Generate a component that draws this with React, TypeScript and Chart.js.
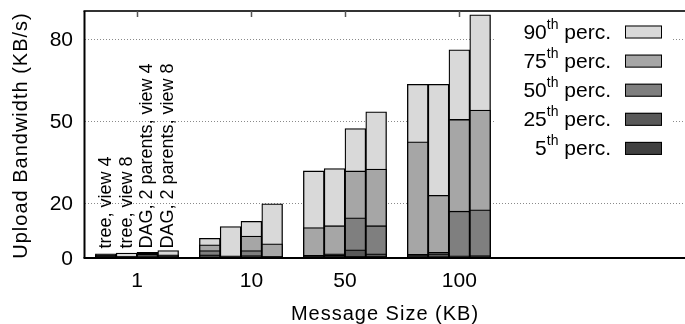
import React, { useEffect, useRef } from 'react';
import { Chart, registerables } from 'chart.js';

Chart.register(...registerables);

// ---------- data ----------
const messageSizes = ['1', '10', '50', '100'];
const configurations = [
  'tree, view 4',
  'tree, view 8',
  'DAG, 2 parents, view 4',
  'DAG, 2 parents, view 8',
];
const percentileNames = ['5', '25', '50', '75', '90'];

// values ordered: size 1 (4 configs), size 10, size 50, size 100
const p5 = [0.4, 0.2, 0.4, 0.3, 0.4, 0.2, 0.3, 0.2, 0.3, 0.5, 0.6, 0.6, 0.4, 0.5, 0.4, 0.4];
const p25 = [0.7, 0.3, 0.8, 0.5, 1.2, 0.3, 0.9, 0.4, 0.7, 1.0, 3.0, 1.5, 0.9, 1.5, 0.8, 0.9];
const p50 = [0.9, 0.4, 1.4, 0.8, 2.7, 0.5, 2.7, 0.6, 1.0, 1.5, 14.7, 11.8, 1.3, 2.1, 17.1, 17.6];
const p75 = [1.2, 0.6, 1.8, 1.2, 4.8, 0.8, 8.0, 5.2, 11.1, 11.8, 31.8, 32.5, 42.4, 22.9, 50.6, 54.0];
const p90 = [1.5, 1.8, 2.1, 2.7, 7.2, 11.5, 13.4, 19.8, 31.8, 32.7, 47.3, 53.4, 63.4, 63.4, 76.0, 88.8];
const percentileValues = [p5, p25, p50, p75, p90];

const yTickValues = [0, 20, 50, 80];

// ---------- layout / style ----------
const percentileColors = ['#404040', '#595959', '#7f7f7f', '#a6a6a6', '#d9d9d9'];
const xTickPositions = [2.5, 8, 12.5, 18];
const slotsPerGroup = configurations.length + 1;
const FONT = '"Liberation Sans", Arial, Helvetica, sans-serif';
const W = 685;
const H = 324;

const slotOf = (i: number) =>
  Math.floor(i / configurations.length) * slotsPerGroup + (i % configurations.length) + 1;

const overlayPlugin = {
  id: 'overlay',
  beforeDatasetsDraw(chart: any) {
    const { ctx, chartArea: a, scales } = chart;
    const y = scales.y;
    ctx.save();
    ctx.strokeStyle = '#8a8a8a';
    ctx.lineWidth = 1;
    ctx.setLineDash([1, 2]);
    for (const v of yTickValues) {
      if (v === 0) continue;
      const py = Math.round(y.getPixelForValue(v)) + 0.5;
      ctx.beginPath();
      ctx.moveTo(a.left, py);
      ctx.lineTo(a.right, py);
      ctx.stroke();
    }
    ctx.restore();
  },
  afterDatasetsDraw(chart: any) {
    const { ctx, chartArea: a, scales } = chart;
    const x = scales.x;
    const y = scales.y;
    ctx.save();

    // frame
    ctx.setLineDash([]);
    ctx.lineWidth = 2;
    ctx.strokeStyle = '#333';
    ctx.beginPath();
    ctx.moveTo(a.left - 1.5, a.top);
    ctx.lineTo(W, a.top);
    ctx.stroke();
    ctx.strokeStyle = '#000';
    ctx.beginPath();
    ctx.moveTo(a.left - 0.5, a.top);
    ctx.lineTo(a.left - 0.5, a.bottom);
    ctx.stroke();
    ctx.beginPath();
    ctx.moveTo(a.left - 1.5, a.bottom);
    ctx.lineTo(W, a.bottom);
    ctx.stroke();

    // mirrored top ticks
    ctx.strokeStyle = '#555';
    ctx.lineWidth = 1.5;
    for (const t of xTickPositions) {
      const px = Math.round(x.getPixelForValue(t)) + 0.5;
      ctx.beginPath();
      ctx.moveTo(px, a.top);
      ctx.lineTo(px, a.top + 6);
      ctx.stroke();
    }

    ctx.fillStyle = '#000';
    // y tick labels
    ctx.font = `21px ${FONT}`;
    ctx.textAlign = 'right';
    ctx.textBaseline = 'middle';
    for (const v of yTickValues) {
      ctx.fillText(String(v), 73, y.getPixelForValue(v) + 1);
    }

    // x tick labels
    ctx.textAlign = 'center';
    ctx.textBaseline = 'alphabetic';
    messageSizes.forEach((s, i) => {
      ctx.fillText(s, x.getPixelForValue(xTickPositions[i]), 287);
    });

    // axis titles
    ctx.font = `20px ${FONT}`;
    (ctx as any).letterSpacing = '1px';
    ctx.fillText('Message Size (KB)', (a.left + W) / 2, 319.5);
    ctx.save();
    ctx.translate(27, 135.5);
    ctx.rotate(-Math.PI / 2);
    ctx.fillText('Upload Bandwidth (KB/s)', 0, 0);
    ctx.restore();
    (ctx as any).letterSpacing = '0px';

    // configuration annotations above first group
    ctx.font = `18px ${FONT}`;
    ctx.textAlign = 'left';
    ctx.textBaseline = 'middle';
    configurations.forEach((c, k) => {
      const px = x.getPixelForValue(slotOf(k));
      const py = y.getPixelForValue(0) - 9.5;
      ctx.save();
      ctx.translate(px, py);
      ctx.rotate(-Math.PI / 2);
      ctx.fillText(c, 0, 0);
      ctx.restore();
    });

    // legend
    ctx.fillStyle = '#fff';
    ctx.fillRect(494, a.top + 1.5, 179, 154);
    ctx.textBaseline = 'alphabetic';
    ctx.textAlign = 'left';
    const rows = percentileNames.map((n, i) => ({ n, c: percentileColors[i] })).reverse();
    rows.forEach((r, i) => {
      const base = 38.5 + i * 29.1;
      const rightEdge = 611;
      ctx.font = `21px ${FONT}`;
      const wPerc = ctx.measureText(' perc.').width;
      const wNum = ctx.measureText(r.n).width;
      ctx.font = `14px ${FONT}`;
      const wSup = ctx.measureText('th').width;
      const start = rightEdge - wPerc;
      ctx.fillStyle = '#000';
      ctx.font = `21px ${FONT}`;
      ctx.fillText(' perc.', start, base);
      ctx.fillText(r.n, start - wSup - wNum, base);
      ctx.font = `14px ${FONT}`;
      ctx.fillText('th', start - wSup, base - 9.5);
      ctx.fillStyle = r.c;
      ctx.fillRect(625, base - 13, 37, 13);
      ctx.strokeStyle = '#000';
      ctx.lineWidth = 1;
      ctx.strokeRect(625.5, base - 12.5, 36, 12);
    });

    ctx.restore();
  },
};

export default function App() {
  const ref = useRef<HTMLCanvasElement>(null);

  useEffect(() => {
    const canvas = ref.current;
    if (!canvas) return;
    const datasets = percentileNames.map((n, pi) => ({
      label: `${n}th perc.`,
      data: percentileValues[pi].map((v, i) => ({ x: slotOf(i), y: v })),
      backgroundColor: percentileColors[pi],
      borderColor: '#000',
      borderWidth: 1.3,
      grouped: false,
      barPercentage: 1,
      categoryPercentage: 1,
    }));
    const chart = new Chart(canvas, {
      type: 'bar',
      data: { datasets } as any,
      options: {
        responsive: false,
        animation: false,
        layout: { padding: { top: 11, bottom: 66, left: 0, right: 0 } },
        plugins: { legend: { display: false }, tooltip: { enabled: false }, title: { display: false } },
        scales: {
          x: {
            type: 'linear',
            display: false,
            offset: false,
            min: 0,
            max: 28.85,
            grid: { display: false },
          },
          y: {
            min: 0,
            max: 90.2,
            afterBuildTicks: (s: any) => {
              s.ticks = yTickValues.map((v) => ({ value: v }));
            },
            afterFit: (s: any) => {
              s.width = 85;
            },
            grid: { display: false },
            border: { display: false },
            ticks: { display: false },
          },
        },
      } as any,
      plugins: [overlayPlugin],
    });
    return () => chart.destroy();
  }, []);

  return (
    <div style={{ position: 'fixed', left: 0, top: 0, width: W, height: H, background: '#fff' }}>
      <canvas ref={ref} width={W} height={H} style={{ display: 'block' }} />
    </div>
  );
}
